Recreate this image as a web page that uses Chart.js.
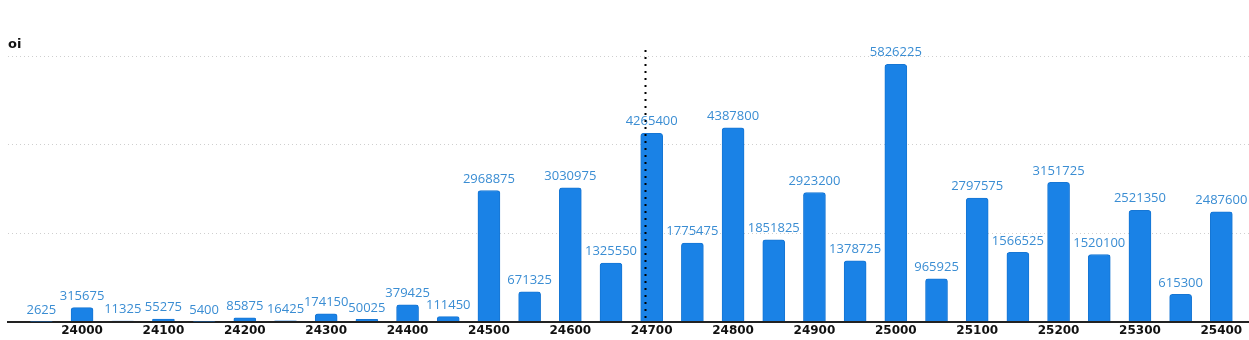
<!DOCTYPE html>
<html>
<head>
<meta charset="utf-8">
<script src="https://cdn.jsdelivr.net/npm/chart.js@4"></script>
<style>
  html, body { margin: 0; padding: 0; background: #fff; }
  #wrap { width: 1249px; height: 340px; }
</style>
</head>
<body>
<div id="wrap"><canvas id="myChart"></canvas></div>
<script>
var strikes = [23950, 24000, 24050, 24100, 24150, 24200, 24250, 24300, 24350, 24400,
               24450, 24500, 24550, 24600, 24650, 24700, 24750, 24800, 24850, 24900,
               24950, 25000, 25050, 25100, 25150, 25200, 25250, 25300, 25350, 25400];
var oi = [2625, 315675, 11325, 55275, 5400, 85875, 16425, 174150, 50025, 379425,
          111450, 2968875, 671325, 3030975, 1325550, 4265400, 1775475, 4387800, 1851825, 2923200,
          1378725, 5826225, 965925, 2797575, 1566525, 3151725, 1520100, 2521350, 615300, 2487600];
var tickValues = [24000, 24100, 24200, 24300, 24400, 24500, 24600, 24700,
                  24800, 24900, 25000, 25100, 25200, 25300, 25400];
var markerStrike = 24692;

var points = strikes.map(function (s, i) { return { x: s, y: oi[i] }; });

// value labels above each bar
var barLabels = {
    id: 'barLabels',
    afterDatasetsDraw: function (chart) {
        var ctx = chart.ctx;
        var meta = chart.getDatasetMeta(0);
        ctx.save();
        ctx.font = '13px "Open Sans"';
        ctx.fillStyle = '#3a8dd3';
        ctx.textAlign = 'center';
        ctx.textBaseline = 'bottom';
        meta.data.forEach(function (bar, i) {
            ctx.fillText(String(oi[i]), bar.x, bar.y - 5);
        });
        ctx.restore();
    }
};

// dotted vertical marker
var marker = {
    id: 'marker',
    afterDatasetsDraw: function (chart) {
        var ctx = chart.ctx;
        var x = Math.round(chart.scales.x.getPixelForValue(markerStrike)) + 0.5;
        ctx.save();
        ctx.strokeStyle = '#000';
        ctx.lineWidth = 2;
        ctx.setLineDash([2, 5]);
        ctx.beginPath();
        ctx.moveTo(x, 50);
        ctx.lineTo(x, chart.chartArea.bottom);
        ctx.stroke();
        ctx.restore();
    }
};

var myChart = new Chart(document.getElementById('myChart'), {
    type: 'bar',
    data: {
        datasets: [{
            label: 'oi',
            data: points,
            backgroundColor: '#1a82e6',
            borderColor: '#1676d4',
            borderWidth: 1,
            borderRadius: 3,
            borderSkipped: 'bottom',
            barThickness: 22
        }]
    },
    options: {
        responsive: true,
        maintainAspectRatio: false,
        animation: false,
        layout: { padding: { left: 8, right: 0, top: 0, bottom: 0 } },
        plugins: {
            legend: { display: false },
            tooltip: { enabled: false },
            title: {
                display: true,
                text: 'oi',
                align: 'start',
                color: '#111',
                font: { family: '"DejaVu Sans"', size: 13, weight: 'bold' },
                padding: { top: 37, bottom: 4 }
            }
        },
        scales: {
            x: {
                type: 'linear',
                offset: false,
                min: 23909,
                max: 25434,
                grid: { display: false, drawTicks: false },
                border: { display: true, color: '#222', width: 2 },
                afterBuildTicks: function (axis) {
                    axis.ticks = tickValues.map(function (v) { return { value: v }; });
                },
                ticks: {
                    color: '#111',
                    padding: 2,
                    maxRotation: 0,
                    autoSkip: false,
                    font: { family: '"DejaVu Sans"', size: 12, weight: 'bold' },
                    callback: function (v) { return String(v); }
                }
            },
            y: {
                min: 0,
                max: 6000000,
                ticks: { display: false, stepSize: 2000000 },
                border: { display: false, dash: [1, 3] },
                grid: {
                    color: '#cfcfcf',
                    lineWidth: 1,
                    drawTicks: false
                },
                afterFit: function (axis) { axis.width = 0; }
            }
        }
    },
    plugins: [barLabels, marker]
});
</script>
</body>
</html>
